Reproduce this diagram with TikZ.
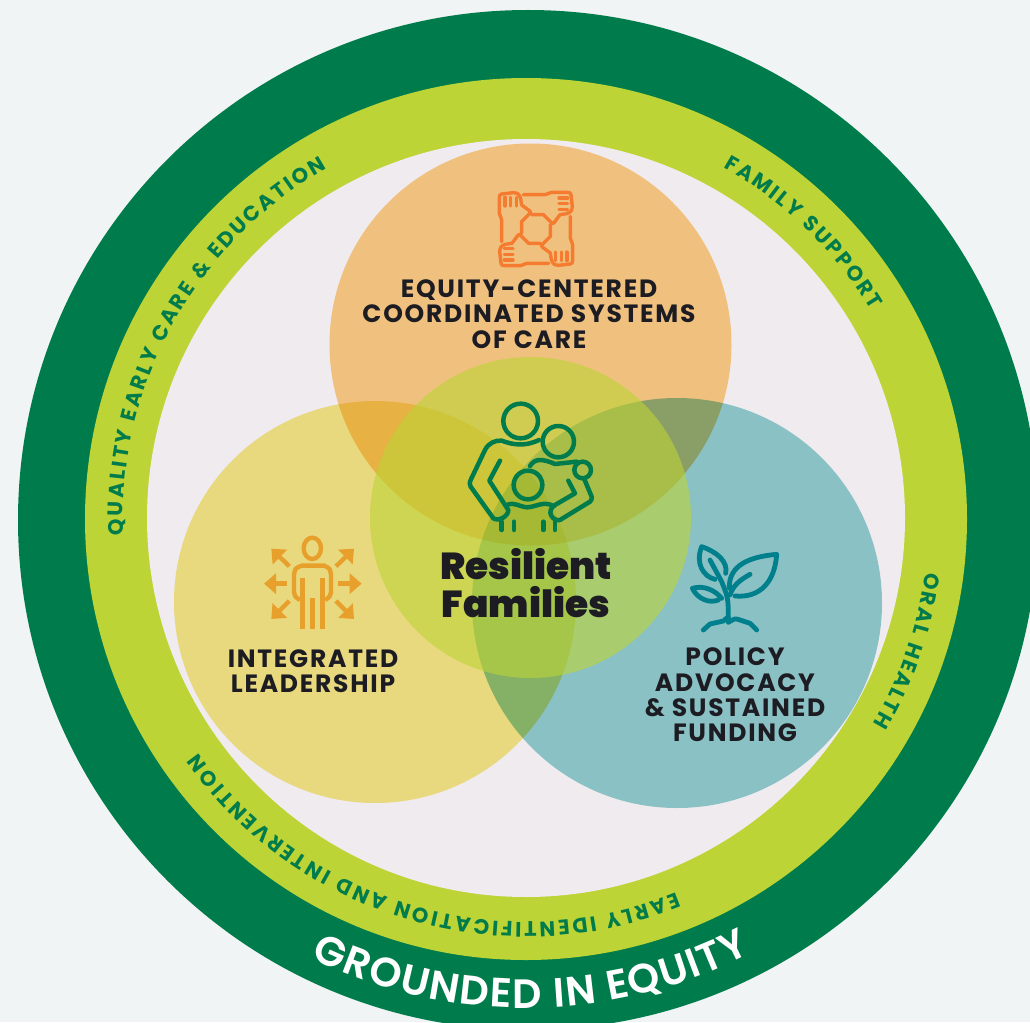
\documentclass[tikz,border=0pt]{standalone}
\usepackage{fontspec}
\usetikzlibrary{decorations.text,arrows.meta}
\newfontfamily\headfont[LetterSpace=7]{Poppins Bold}
\newfontfamily\ringfont{Poppins Bold}
\newfontfamily\groundfont{Poppins SemiBold}
\newfontfamily\bigfont{Poppins Black}
\definecolor{paper}{HTML}{F0F4F5}
\definecolor{darkring}{HTML}{007C4C}
\definecolor{limering}{HTML}{BCD435}
\definecolor{inside}{HTML}{F0EBEE}
\definecolor{peach}{HTML}{FFD288}
\definecolor{straw}{HTML}{F7EB88}
\definecolor{sea}{HTML}{93D2D2}
\definecolor{ink}{HTML}{1C1C22}
\definecolor{handcol}{HTML}{F47B30}
\definecolor{mancol}{HTML}{E8A02C}
\definecolor{plantcol}{HTML}{007F8C}
\newcommand\ringface{\ringfont\fontsize{21}{21}\selectfont\color{darkring}}
\newcommand\groundface{\groundfont\fontsize{41}{41}\selectfont\color{white}}
\tikzset{
  title/.style={font=\headfont\fontsize{25}{25.3}\selectfont,text=ink,align=center,inner sep=0pt},
  ringlabel/.style={decorate,decoration={text along path,text align=fit to path,text={#1}}},
  glyph/.style={line cap=round,line join=round,fill=none},
  chevron/.style={-{Triangle[length=12pt,width=20pt]}},
}
\begin{document}
\begin{tikzpicture}[x=1pt,y=-1pt]
\useasboundingbox (0,0) rectangle (1030,1022);
\fill[paper] (0,0) rectangle (1030,1022);
\fill[darkring] (528,520) circle[radius=510];
\fill[limering] (526,519) circle[radius=441];
\fill[inside] (526,518) circle[radius=379];
% three petals and the middle
\fill[peach,blend mode=multiply] (530.5,344.5) circle[radius=201];
\fill[straw,blend mode=multiply] (375,602) circle[radius=201];
\fill[sea,blend mode=multiply] (677,603) circle[radius=205];
\fill[limering,opacity=.6] (530.5,517.5) circle[radius=160.5];
% ring texts
\path[ringlabel={|\ringface|QUALITY EARLY CARE {\&} EDUCATION}]
  (526,519) ++(177.7:403) arc[start angle=177.7,end angle=240.4,radius=403];
\path[ringlabel={|\ringface|FAMILY SUPPORT}]
  (526,519) ++(299.3:403) arc[start angle=299.3,end angle=328.8,radius=403];
\path[ringlabel={|\ringface|ORAL HEALTH}]
  (526,519) ++(7.6:403) arc[start angle=7.6,end angle=30.6,radius=403];
\path[ringlabel={|\ringface|EARLY IDENTIFICATION AND INTERVENTION}]
  (526,519) ++(68.1:403) arc[start angle=68.1,end angle=144.4,radius=403];
\path[ringlabel={|\groundface|GROUNDED IN EQUITY}]
  (526,519) ++(116.1:489) arc[start angle=116.1,end angle=62.6,radius=489];
% labels
\node[title] (care) at (529,314) {EQUITY-CENTERED\\COORDINATED SYSTEMS\\OF CARE};
\node[title] (lead) at (313,671) {INTEGRATED\\LEADERSHIP};
\node[title] (policy) at (735,695) {POLICY\\ADVOCACY\\\& SUSTAINED\\FUNDING};
\node[font=\bigfont\fontsize{37.5}{38}\selectfont,text=ink,align=center,inner sep=0pt] (core) at (526,583) {Resilient\\Families};
% hands
\begin{scope}[shift={(450,170)},x=.3333pt,y=-.3333pt,glyph,draw=handcol,line width=3.4pt]
\foreach \a in {0,-90,-180,-270}{
  \begin{scope}[rotate around={\a:(258,177)}]
  \draw (155,215) -- (155,150) -- (148,130) -- (148,85) .. controls (148,75) .. (155,72) -- (190,68)
    .. controls (205,70) .. (212,85) -- (215,105) -- (238,122) .. controls (243,127) .. (240,130) -- (215,155) -- (215,190);
  \draw (165,82) -- (165,108) (182,82) -- (182,108) (199,82) -- (199,108);
  \end{scope}
}
\end{scope}
% family
\begin{scope}[shift={(440,390)},x=.3333pt,y=-.3333pt,glyph,draw=darkring,line width=4.5pt]
\draw (242,93) circle[radius=52];
\draw (355,155) circle[radius=47];
\draw (264,285) circle[radius=43];
\draw (297,150) .. controls (255,170) and (220,165) .. (185,152) .. controls (165,150) and (145,160) .. (135,180) -- (92,270)
  .. controls (88,280) .. (92,290) -- (160,385) .. controls (175,395) and (205,380) .. (205,360) -- (148,272) -- (180,212);
\draw (200,345) .. controls (225,335) and (235,350) .. (262,352) .. controls (290,350) and (305,335) .. (335,345);
\draw (270,228) .. controls (285,205) and (305,205) .. (345,222) -- (410,215);
\draw (428,240) circle[radius=25];
\draw (432,265) -- (455,320) .. controls (455,330) .. (450,335) -- (360,390) .. controls (340,395) and (315,365) .. (345,345) -- (405,310) -- (385,272);
\draw (185,395) -- (185,420) (222,395) -- (222,420) (310,395) -- (310,420) (345,395) -- (345,420);
\end{scope}
% person with arrows
\begin{scope}[shift={(250,525)},x=.3333pt,y=-.3333pt,draw=mancol,line width=4.4pt]
\draw (187,70) ellipse[x radius=26,y radius=32];
\draw (150,225) .. controls (135,215) .. (132,200) -- (132,150) .. controls (135,130) .. (155,122) -- (222,122) .. controls (240,130) .. (243,150) -- (243,200) .. controls (240,215) .. (225,225);
\draw (158,160) -- (158,312) (218,160) -- (218,312) (188,218) -- (188,312);
\draw[chevron] (110,176) -- (42,176);
\draw[chevron] (265,176) -- (335,176);
\draw[chevron] (118,124) -- (64,71);
\draw[chevron] (258,124) -- (312,71);
\draw[chevron] (118,228) -- (64,282);
\draw[chevron] (258,228) -- (312,282);
\end{scope}
% plant
\begin{scope}[shift={(680,535)},x=.3333pt,y=-.3333pt,glyph,draw=plantcol,line width=4.8pt]
\draw (148,160) .. controls (145,90) and (210,65) .. (290,58) .. controls (285,140) and (240,190) .. (165,183);
\draw (210,118) .. controls (180,135) and (160,150) .. (150,180);
\draw (105,133) .. controls (70,125) and (45,85) .. (65,35) .. controls (110,50) and (145,80) .. (137,115);
\draw (90,75) -- (125,140) .. controls (145,190) .. (145,260);
\draw (115,195) .. controls (90,205) and (55,195) .. (37,160) .. controls (70,150) and (105,165) .. (125,190);
\draw (70,285) -- (90,267) -- (130,258) -- (145,245);
\draw (145,262) .. controls (165,250) .. (180,255) -- (210,265) -- (230,285);
\end{scope}
\end{tikzpicture}
\end{document}
